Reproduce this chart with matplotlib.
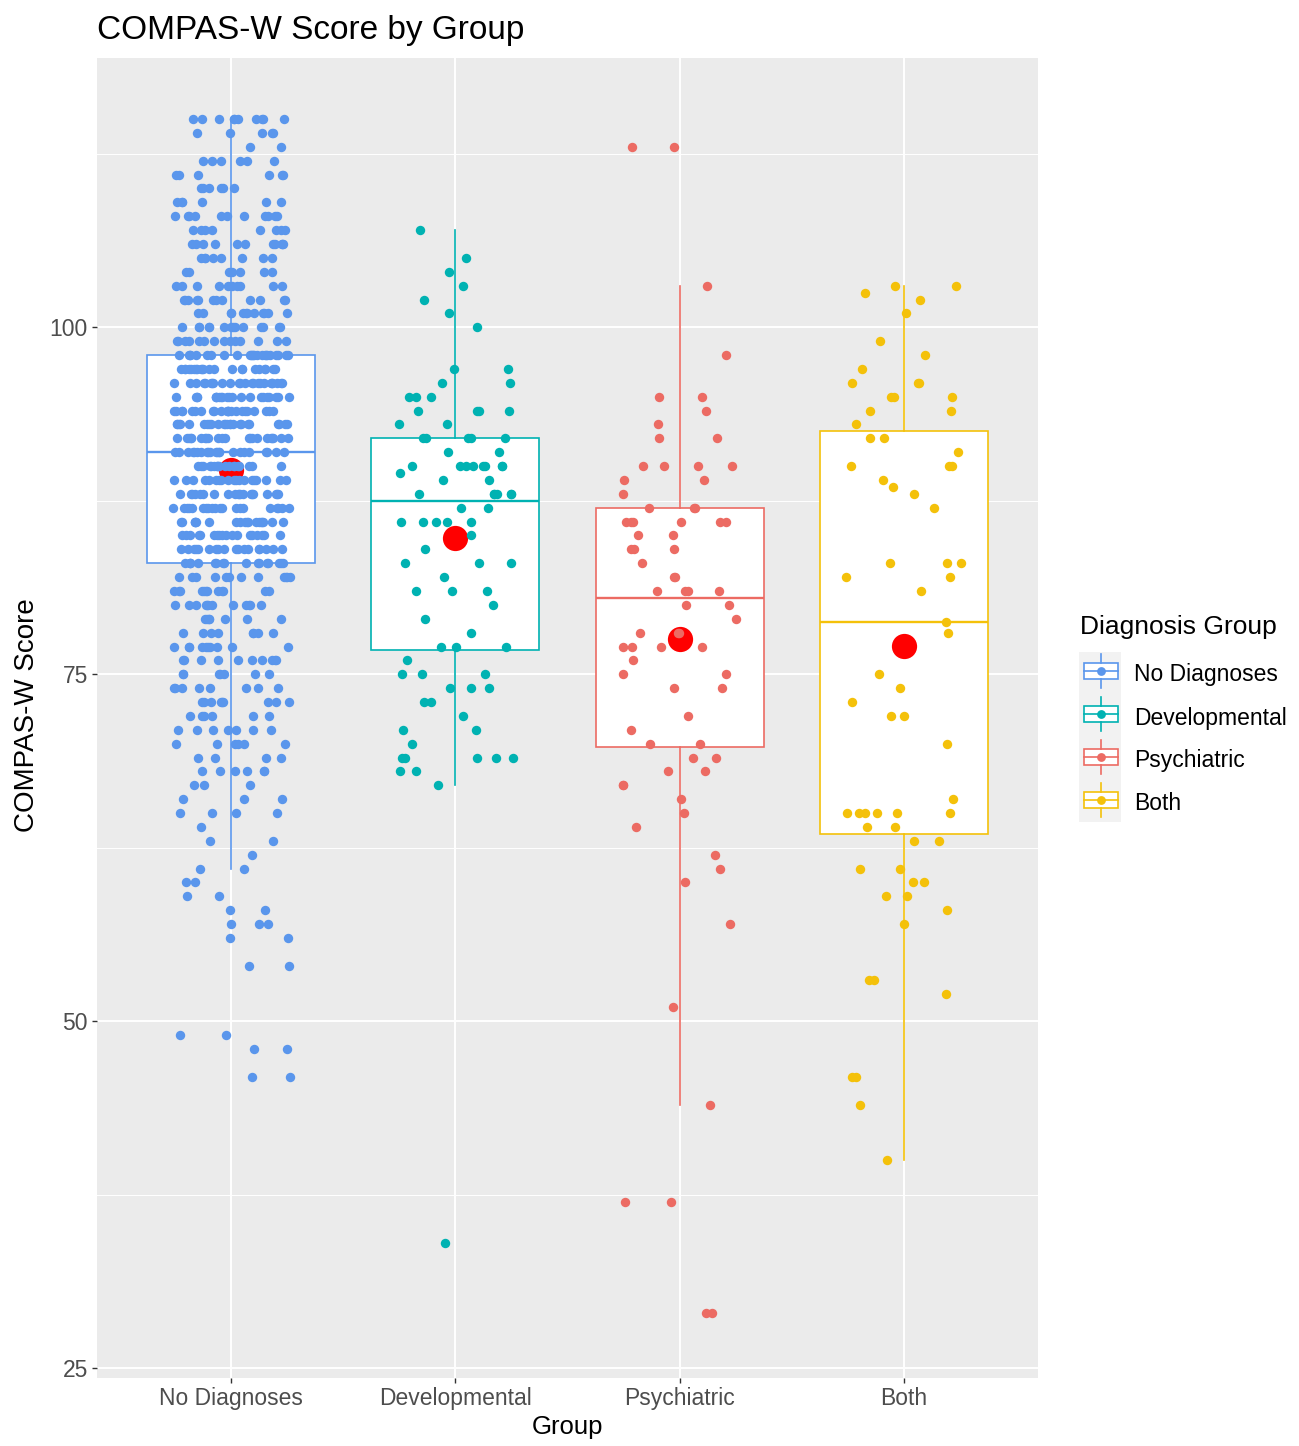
"""
COMPAS-W score by diagnosis group: boxplots with jittered points and group means.
"""

import matplotlib

matplotlib.use("Agg")
import matplotlib.pyplot as plt
import numpy as np
from matplotlib.patches import Rectangle

plt.rcParams["font.family"] = ["Liberation Sans", "DejaVu Sans"]

W, H = 1299, 1446

groups = ["No Diagnoses", "Developmental", "Psychiatric", "Both"]
colors = ["#5A96EC", "#00B2B2", "#EC6B63", "#F4C10A"]

# No Diagnoses is dense, so it is kept as score levels with a count per level
nodx_scores = [115, 114, 113, 112, 111, 110, 109, 108, 107, 106, 105, 104, 103, 102, 101, 100, 99,
               98, 97, 96, 95, 94, 93, 92, 91, 90, 89, 88, 87, 86, 85, 84, 83,
               82, 81, 80, 79, 78, 77, 76, 75, 74, 73, 72, 71, 70, 69, 68, 67, 66, 65, 64, 63, 62, 61,
               60, 59, 58, 57, 56, 54, 49, 48, 46]
nodx_counts = [10, 5, 2, 6, 6, 6, 6, 11, 8, 11, 8, 7, 10, 12, 12, 14, 14,
               24, 22, 24, 22, 23, 24, 22, 22, 19, 19, 20, 20, 19, 18, 18, 17,
               12, 12, 12, 7, 8, 10, 10, 7, 8, 9, 6, 7, 6, 4, 6, 3, 3, 4, 1, 2, 1, 2,
               2, 2, 2, 3, 2, 2, 2, 2, 2]

dev_scores = [107, 105, 104, 103, 102, 101, 100, 97, 97, 96, 96, 95, 95, 95, 94, 94, 94, 94, 93, 93,
              92, 92, 92, 92, 92, 91, 91, 90, 90, 90, 90, 90, 90, 90, 90, 89.5, 89, 89,
              88, 88, 88, 88, 88, 88, 87, 87, 86, 86, 86, 86, 86, 85, 84, 83, 83, 83, 82, 81, 81, 81,
              80, 79, 78, 77, 77, 77, 76, 75, 75, 75, 74, 74, 74, 73, 73, 72, 71, 71, 70,
              69, 69, 69, 69, 69, 68, 68, 67, 34]

psy_scores = [113, 113, 103, 98, 95, 95, 94, 93, 92, 92, 90, 90, 90, 90, 89, 89, 88,
              87, 87, 87, 86, 86, 86, 86, 86, 86, 85, 85, 84, 84, 84, 83, 82, 82, 81, 81, 81, 81,
              80, 80, 79, 78, 78, 78, 77, 77, 77, 77, 76, 75, 75, 74, 74, 72, 71, 70, 70,
              69, 69, 68, 68, 67, 67, 66, 65, 64, 62, 61, 60, 57, 51, 44, 37, 37, 29, 29]

both_scores = [103, 103, 102.5, 102, 101, 99, 98, 97, 96, 96, 96, 95, 95, 95, 94, 94, 93, 92, 92, 91,
               90, 90, 90, 89, 88.5, 88, 87, 83, 83, 83, 82, 82, 81, 78.8, 78, 75, 74, 73, 72, 72, 70, 66,
               65, 65, 65, 65, 65, 65, 64, 64, 63, 63, 61, 61, 60, 60, 59, 59, 58, 57, 53, 53, 52,
               46, 46, 44, 40]


def jitter(n, width, seed):
    """Deterministic hash-based horizontal spread in [-width, width] (splitmix64 mixing)."""
    with np.errstate(over="ignore"):
        z = (np.arange(n, dtype=np.uint64) + np.uint64(seed * 1000 + 7)) * np.uint64(0x9E3779B97F4A7C15)
        z ^= z >> np.uint64(30)
        z *= np.uint64(0xBF58476D1CE4E5B9)
        z ^= z >> np.uint64(27)
        z *= np.uint64(0x94D049BB133111EB)
        z ^= z >> np.uint64(31)
    u = (z >> np.uint64(11)).astype(float) / 2.0 ** 53
    return (u - 0.5) * 2 * width


def main():
    data = [
        np.repeat(nodx_scores, nodx_counts).astype(float),
        np.array(dev_scores, dtype=float),
        np.array(psy_scores, dtype=float),
        np.array(both_scores, dtype=float),
    ]
    positions = np.arange(1, len(groups) + 1)

    fig = plt.figure(figsize=(W / 100, H / 100), dpi=100)
    ax = fig.add_axes([97 / W, 1 - 1378 / H, (1038 - 97) / W, (1378 - 58) / H])
    ax.set_facecolor("#EBEBEB")

    bp = ax.boxplot(data, positions=positions, widths=0.75, whis=1.5, showfliers=False,
                    showcaps=False, patch_artist=True, zorder=2)
    for i, c in enumerate(colors):
        bp["boxes"][i].set(facecolor="white", edgecolor=c, linewidth=1.2)
        bp["medians"][i].set(color=c, linewidth=1.7)
        for w in bp["whiskers"][2 * i:2 * i + 2]:
            w.set(color=c, linewidth=1.2)

    for k, (pos, scores, c) in enumerate(zip(positions, data, colors)):
        ax.scatter([pos], [scores.mean()], s=330, color="red", linewidths=0, zorder=3)
        ax.scatter(pos + jitter(len(scores), 0.26, k), scores, s=46, color=c,
                   linewidths=0, zorder=4)

    ax.set_xlim(0.4, 4.6)
    ax.set_ylim(24.3, 119.4)
    ax.set_xticks(positions, groups)
    ax.set_yticks([25, 50, 75, 100])
    ax.set_yticks([37.5, 62.5, 87.5, 112.5], minor=True)
    ax.grid(which="major", color="white", linewidth=1.4)
    ax.grid(which="minor", axis="y", color="white", linewidth=0.7)
    ax.set_axisbelow(True)
    for spine in ax.spines.values():
        spine.set_visible(False)
    ax.tick_params(which="major", length=3.5, width=1, color="#333333",
                   labelsize=16.5, labelcolor="#4D4D4D", pad=3)
    ax.tick_params(which="minor", length=0)

    fig.text(97 / W, 1 - 30 / H, "COMPAS-W Score by Group", fontsize=24,
             ha="left", va="center")
    fig.text(567.5 / W, 1 - 1427 / H, "Group", fontsize=18.5, ha="center", va="center")
    fig.text(27 / W, 1 - 715 / H, "COMPAS-W Score", fontsize=20, rotation=90,
             ha="center", va="center")

    # legend drawn by hand in pixel coordinates
    leg = fig.add_axes([0, 0, 1, 1])
    leg.set_xlim(0, W)
    leg.set_ylim(H, 0)
    leg.axis("off")
    leg.text(1080, 627, "Diagnosis Group", fontsize=19, ha="left", va="center")
    leg.add_patch(Rectangle((1079, 652), 42, 170, color="#F2F2F2", linewidth=0))
    for i, (g, c) in enumerate(zip(groups, colors)):
        cy = 671 + 43 * i
        leg.add_patch(Rectangle((1084, cy - 8), 34, 16, facecolor="white",
                                edgecolor=c, linewidth=1.2))
        leg.plot([1101, 1101], [cy - 17, cy - 8], color=c, linewidth=1.2)
        leg.plot([1101, 1101], [cy + 8, cy + 17], color=c, linewidth=1.2)
        leg.plot([1084, 1118], [cy, cy], color=c, linewidth=1.2)
        leg.scatter([1101], [cy], s=40, color=c, linewidths=0, zorder=3)
        leg.text(1134, cy + 4, g, fontsize=16.5, ha="left", va="center")

    fig.savefig("out.png", dpi=100)
    plt.close(fig)


if __name__ == "__main__":
    main()
